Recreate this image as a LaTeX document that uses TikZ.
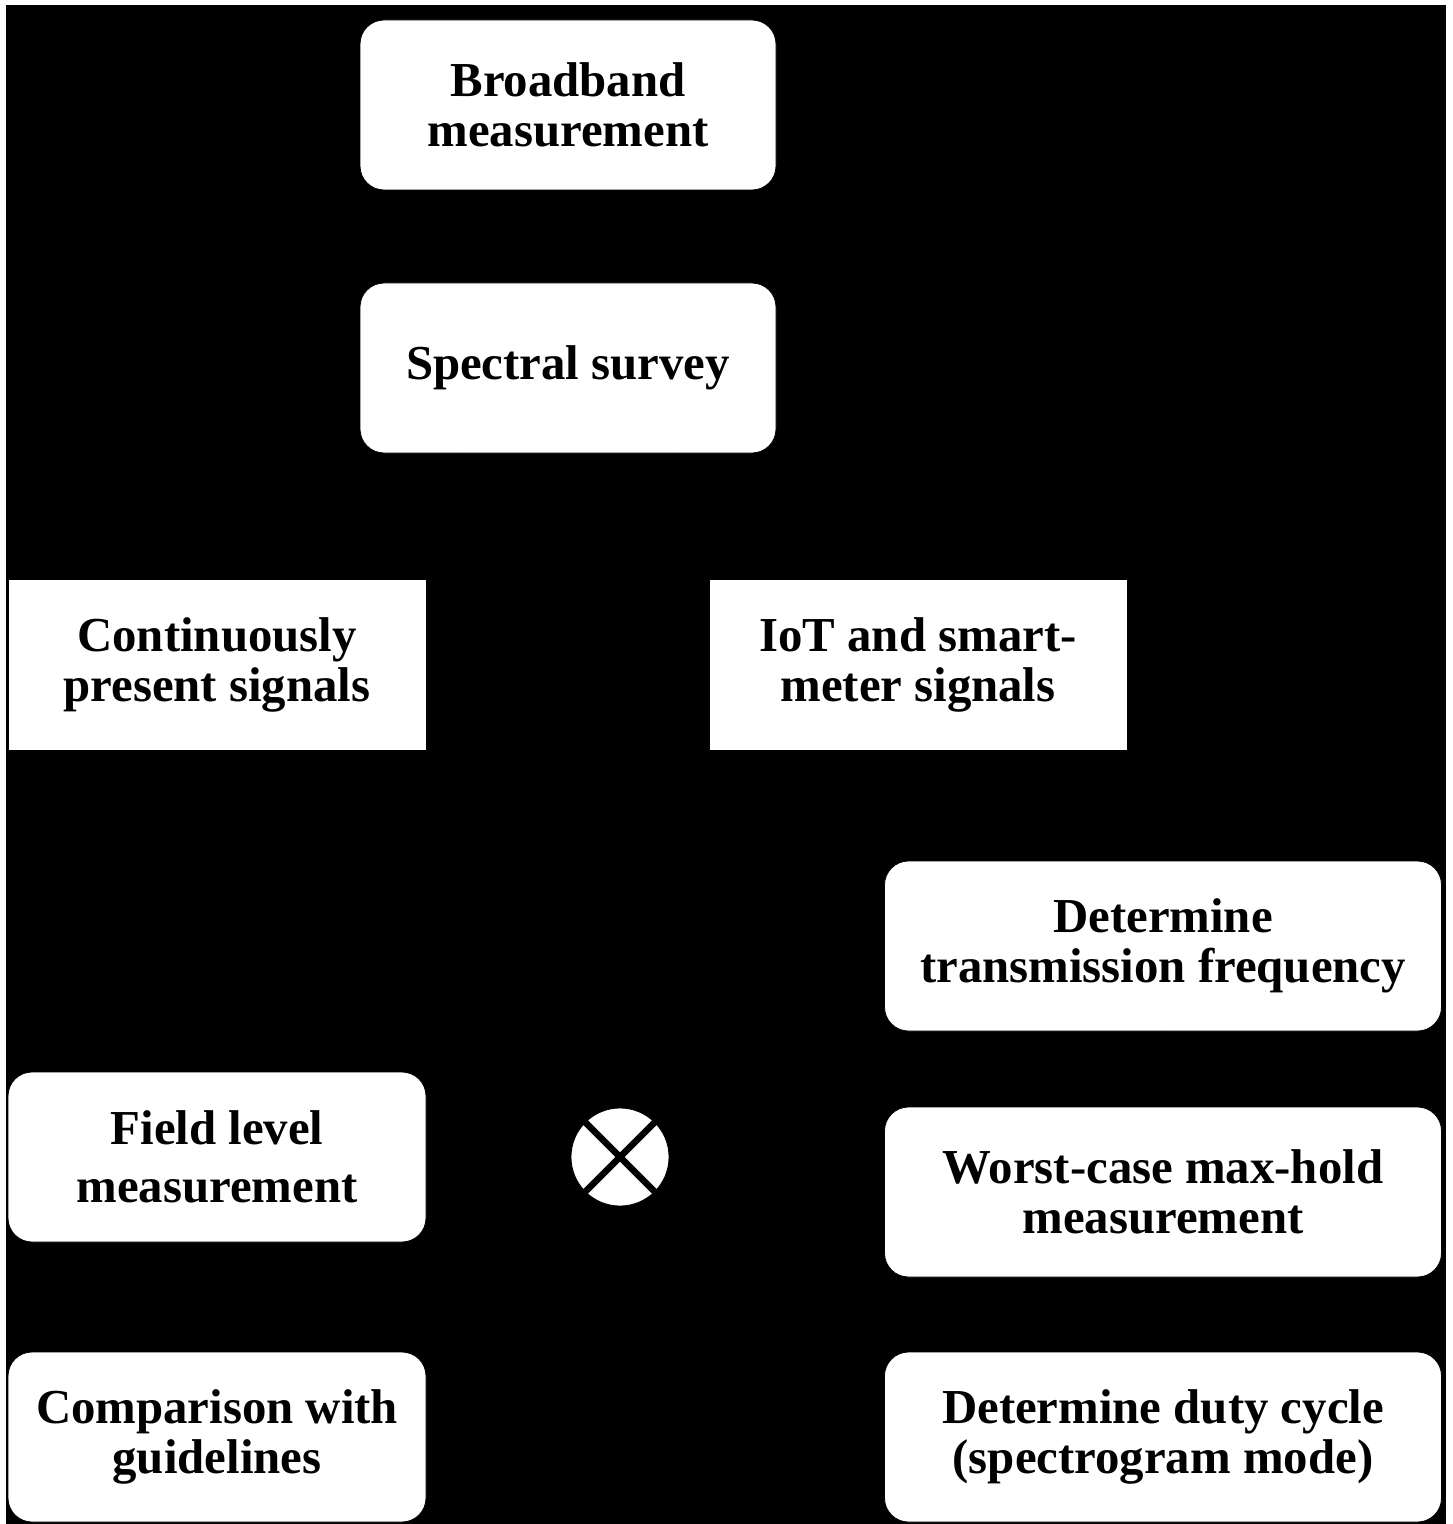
\documentclass[tikz,border=0pt]{standalone}
\usepackage{fontspec}
\setmainfont{Liberation Serif}
\usepackage{xcolor}
\usetikzlibrary{arrows.meta,positioning,calc}

\begin{document}
\begin{tikzpicture}[x=0.5pt, y=-0.5pt, >=Latex, font=\bfseries\fontsize{24.4pt}{25pt}\selectfont]
  \tikzset{rbox/.style={draw=black, fill=white, rounded corners=12pt, align=center, inner sep=2pt, minimum height=85pt, minimum width=208pt},sbox/.style={draw=black, fill=white, align=center, inner sep=2pt, minimum height=85.5pt, minimum width=209pt},wbox/.style={rbox, minimum width=278.5pt},mixer/.style={circle, draw=black, fill=white, minimum size=49pt, inner sep=0pt, path picture={\draw[black, line width=3.3pt] (path picture bounding box.north west) -- (path picture bounding box.south east) (path picture bounding box.north east) -- (path picture bounding box.south west);}}}
  % page and black ground
  \fill[white] (0,0) rectangle (1452,1524);
  \fill[black] (6,5) rectangle (1446,1524);
  \node[rbox] (broad) at (568,105) {Broadband\\measurement};
  \node[rbox] (survey) at (568,368) {Spectral survey};
  \node[sbox] (cont) at (217,665) {Continuously\\present signals};
  \node[sbox] (iot) at (918,665) {IoT and smart-\\meter signals};
  \node[wbox] (freq) at (1163,946) {Determine\\transmission frequency};
  \node[rbox, minimum width=209pt] (field) at (217,1157) {Field level\\[4pt]measurement};
  \node[mixer] (mix) at (620,1157) {};
  \node[wbox] (worst) at (1163,1192) {Worst-case max-hold\\measurement};
  \node[rbox, minimum width=209pt] (comp) at (217,1437) {Comparison with\\guidelines};
  \node[wbox] (duty) at (1163,1437) {Determine duty cycle\\(spectrogram mode)};
  \coordinate (s1) at ($(survey.south)+(-108,0)$);
  \coordinate (s2) at ($(survey.south)+(107,0)$);
  \draw[->] (broad) -- (survey);
  \draw[->] (s1) -- ++(0,60) -| (cont.north);
  \draw[->] (s2) -- ++(0,60) -| (iot.north);
  \draw[->] (iot.south) -- ++(0,50) -| (freq.north);
  \draw[->] (freq) -- (worst);
  \draw[->] (worst) -- (duty);
  \draw[->] (freq.west) -| (mix.north);
  \draw[->] (duty.west) -| (mix.south);
  \draw[->] (mix) -- (field);
  \draw[->] (cont) -- (field);
  \draw[->] (field) -- (comp);
\end{tikzpicture}
\end{document}
